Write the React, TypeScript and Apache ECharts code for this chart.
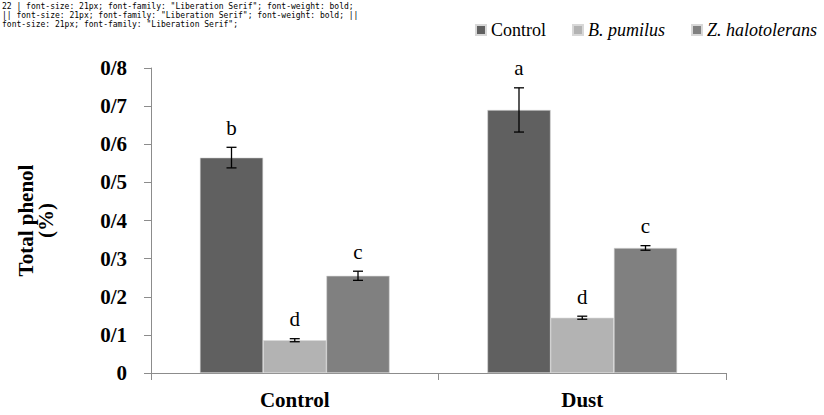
import React, { useEffect, useRef, useState } from "react";
import * as echarts from "echarts";

const categories = ["Control", "Dust"];
const seriesNames = ["Control", "B. pumilus", "Z. halotolerans"];
const seriesColors = ["#606060", "#b3b3b3", "#808080"];
const controlValues = [0.565, 0.69];
const pumilusValues = [0.086, 0.145];
const zValues = [0.255, 0.328];
const controlErrors = [0.027, 0.058];
const pumilusErrors = [0.004, 0.004];
const zErrors = [0.012, 0.006];
const controlLetters = ["b", "a"];
const pumilusLetters = ["d", "d"];
const zLetters = ["c", "c"];
const yTicks = [0, 0.1, 0.2, 0.3, 0.4, 0.5, 0.6, 0.7, 0.8];

const allValues = [controlValues, pumilusValues, zValues];
const allErrors = [controlErrors, pumilusErrors, zErrors];
const allLetters = [controlLetters, pumilusLetters, zLetters];

const FONT = "Liberation Serif";
const GROUP_FRAC = 0.66;

export default function App() {
  const ref = useRef<HTMLDivElement>(null);
  const [dbg, setDbg] = useState("");
  useEffect(() => {
    if (!ref.current) return;
    document.body.style.margin = "0";
    const chart = echarts.init(ref.current, undefined, { renderer: "svg" });
    const barSeries = seriesNames.map((name, i) => ({
      name,
      type: "bar",
      data: allValues[i],
      barGap: "0%",
      barCategoryGap: "34%",
      itemStyle: { color: seriesColors[i], borderColor: "#d8d8d8", borderWidth: 0.6 },
    }));
    const errSeries = seriesNames.map((name, i) => ({
      name: name + "_err",
      type: "custom",
      z: 5,
      data: allValues[i].map((v, j) => [j, v, allErrors[i][j]]),
      renderItem: (params: any, api: any) => {
        const cat = api.value(0);
        const v = api.value(1);
        const e = api.value(2);
        const letter = allLetters[i][params.dataIndex];
        const catW = api.size([1, 0])[0];
        const bw = (catW * GROUP_FRAC) / 3;
        const off = (i - 1) * bw;
        const top = api.coord([cat, v + e]);
        const bot = api.coord([cat, v - e]);
        const x = top[0] + off;
        const cap = 5;
        const style = { stroke: "#000", lineWidth: 1.3 };
        return {
          type: "group",
          children: [
            { type: "line", shape: { x1: x, y1: top[1], x2: x, y2: bot[1] }, style },
            { type: "line", shape: { x1: x - cap, y1: top[1], x2: x + cap, y2: top[1] }, style },
            { type: "line", shape: { x1: x - cap, y1: bot[1], x2: x + cap, y2: bot[1] }, style },
            {
              type: "text",
              x,
              y: top[1] - 9,
              style: {
                text: letter,
                fill: "#000",
                fontFamily: FONT,
                fontSize: 21,
                textAlign: "center",
                textVerticalAlign: "bottom",
              },
            },
          ],
        };
      },
    }));
    chart.setOption({
      animation: false,
      backgroundColor: "#fff",
      legend: {
        data: seriesNames.map((n, i) => ({ name: n, itemStyle: { color: seriesColors[i] } })),
        right: 2,
        top: 16,
        icon: "rect",
        itemWidth: 10,
        itemHeight: 10,
        itemGap: 26,
        formatter: (n: string) => (n === "Control" ? n : `{i|${n}}`),
        textStyle: {
          fontFamily: FONT,
          fontSize: 18,
          color: "#000",
          rich: { i: { fontStyle: "italic", fontFamily: FONT, fontSize: 18, color: "#000" } },
        },
      },
      grid: { left: 151, right: 98, top: 68, bottom: 42, containLabel: false },
      xAxis: {
        type: "category",
        data: categories,
        axisLine: { lineStyle: { color: "#8c8c8c", width: 1 } },
        axisTick: { show: true, length: 7, lineStyle: { color: "#8c8c8c" } },
        axisLabel: {
          fontFamily: FONT,
          fontWeight: "bold",
          fontSize: 21,
          color: "#000",
          margin: 16,
        },
      },
      yAxis: {
        type: "value",
        min: 0,
        max: yTicks[yTicks.length - 1],
        interval: 0.1,
        name: "Total phenol\n(%)",
        nameLocation: "middle",
        nameGap: 95,
        nameTextStyle: {
          fontFamily: FONT,
          fontWeight: "bold",
          fontSize: 21,
          color: "#000",
          lineHeight: 20,
        },
        axisLine: { show: true, lineStyle: { color: "#8c8c8c", width: 1 } },
        axisTick: { show: true, length: 7, lineStyle: { color: "#8c8c8c" } },
        splitLine: { show: false },
        axisLabel: {
          fontFamily: FONT,
          fontWeight: "bold",
          fontSize: 21,
          color: "#000",
          margin: 24,
          formatter: (v: number) => (v === 0 ? "0" : v.toFixed(1).replace(".", "/")),
        },
      },
      series: [...barSeries, ...errSeries],
    });
    const ts = Array.from(ref.current.querySelectorAll("text"));
    const pick = ts.filter((t) => ["Dust", "0/8", "b"].includes((t.textContent || "").trim()));
    setDbg(ts.length + " | " + pick.map((t) => (t.getAttribute("style") || "")).join(" || "));
    return () => chart.dispose();
  }, []);
  return (
    <div style={{ position: "relative" }}>
      <div ref={ref} style={{ width: 824, height: 415 }} />
      <div style={{ position: "absolute", left: 2, top: 2, width: 360, fontSize: 8, fontFamily: "monospace", lineHeight: "9px" }}>{dbg}</div>
    </div>
  );
}
